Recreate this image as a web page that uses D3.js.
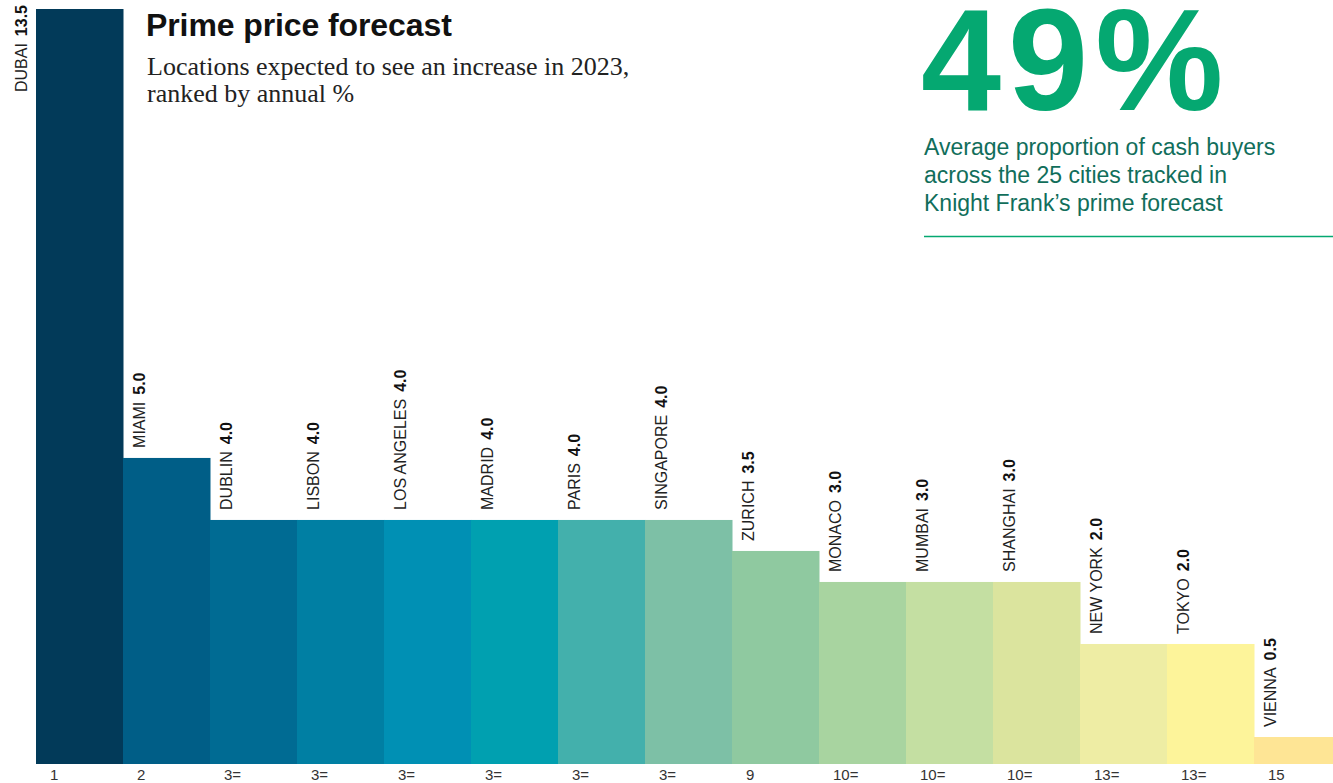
<!DOCTYPE html>
<meta charset="utf-8">
<style>
    body { margin: 0; background: #fff; font-family: "Liberation Sans", Arial, sans-serif; }
    svg { display: block; }
    .city { font-size: 16px; fill: #222; }
    .city .val { font-weight: bold; fill: #111; }
    .rank { font-size: 15px; fill: #333; }
</style>
<svg width="1333" height="783"></svg>
<script src="https://cdn.jsdelivr.net/npm/d3@7"></script>
<script>

    var cities = ["DUBAI", "MIAMI", "DUBLIN", "LISBON", "LOS ANGELES", "MADRID", "PARIS", "SINGAPORE",
                  "ZURICH", "MONACO", "MUMBAI", "SHANGHAI", "NEW YORK", "TOKYO", "VIENNA"];
    var values = [13.5, 5.0, 4.0, 4.0, 4.0, 4.0, 4.0, 4.0, 3.5, 3.0, 3.0, 3.0, 2.0, 2.0, 0.5];
    var ranks = ["1", "2", "3=", "3=", "3=", "3=", "3=", "3=", "9", "10=", "10=", "10=", "13=", "13=", "15"];
    var colors = ["#023a59", "#005e87", "#006b93", "#007fa3", "#0090b4", "#00a0b0", "#43b0ac", "#7dc0a6",
                  "#8fc9a0", "#a8d4a0", "#c4dfa2", "#dbe49e", "#eeeda4", "#fdf49a", "#fee595"];

    var data = cities.map(function(c, i) {
        return {city: c, value: values[i], rank: ranks[i], color: colors[i]};
    });

    var svg = d3.select("svg");
    var base = 764;

    var x = d3.scaleBand().domain(cities).range([36, 36 + 15 * 87]).padding(0);
    // Dubai is way off the scale, so its bar is cut at the top of the page
    var y = d3.scaleLinear().domain([0, 12.24]).range([768, 9]).clamp(true);

    // bars
    svg.selectAll(".bar")
        .data(data)
        .enter().append("rect")
        .attr("class", "bar")
        .attr("x", function(d) { return x(d.city); })
        .attr("y", function(d) { return y(d.value); })
        .attr("width", x.bandwidth() + 0.5)
        .attr("height", function(d) { return base - y(d.value); })
        .attr("fill", function(d) { return d.color; });

    // city labels, rotated
    var lab = svg.selectAll(".city")
        .data(data)
        .enter().append("text")
        .attr("class", "city")
        .attr("transform", function(d, i) {
            if (i === 0) return "translate(" + (x(d.city) - 9) + ",5) rotate(-90)";
            return "translate(" + (x(d.city) + 22) + "," + (y(d.value) - 10) + ") rotate(-90)";
        })
        .attr("text-anchor", function(d, i) { return i === 0 ? "end" : "start"; });

    lab.append("tspan").text(function(d) { return d.city; });
    lab.append("tspan")
        .attr("class", "val")
        .attr("dx", 7)
        .text(function(d) { return d3.format(".1f")(d.value); });

    // rank labels under the bars
    svg.selectAll(".rank")
        .data(data)
        .enter().append("text")
        .attr("class", "rank")
        .attr("x", function(d) { return x(d.city) + 14; })
        .attr("y", 780)
        .text(function(d) { return d.rank; });

    // title block
    svg.append("text")
        .attr("x", 146)
        .attr("y", 36)
        .style("font", "bold 32px 'Liberation Sans', Arial, sans-serif")
        .style("letter-spacing", "-0.1px")
        .style("fill", "#111")
        .text("Prime price forecast");

    var sub = svg.append("text")
        .style("font", "26px 'Liberation Serif', 'Times New Roman', serif")
        .style("fill", "#222");
    sub.append("tspan").attr("x", 147).attr("y", 75).text("Locations expected to see an increase in 2023,");
    sub.append("tspan").attr("x", 147).attr("y", 102).text("ranked by annual %");

    // callout on the right
    svg.append("text")
        .attr("x", 921)
        .attr("y", 110)
        .style("font", "bold 144px 'Liberation Sans', Arial, sans-serif")
        .style("letter-spacing", "7px")
        .style("fill", "#05a871")
        .text("49%");

    var note = svg.append("text")
        .style("font", "23px 'Liberation Sans', Arial, sans-serif")
        .style("fill", "#116e5b");
    ["Average proportion of cash buyers", "across the 25 cities tracked in", "Knight Frank\u2019s prime forecast"]
        .forEach(function(t, i) {
            note.append("tspan").attr("x", 924).attr("y", 155 + i * 28).text(t);
        });

    svg.append("line")
        .attr("x1", 924).attr("x2", 1333)
        .attr("y1", 236.5).attr("y2", 236.5)
        .style("stroke", "#05a871")
        .style("stroke-width", 1.5);

</script>
